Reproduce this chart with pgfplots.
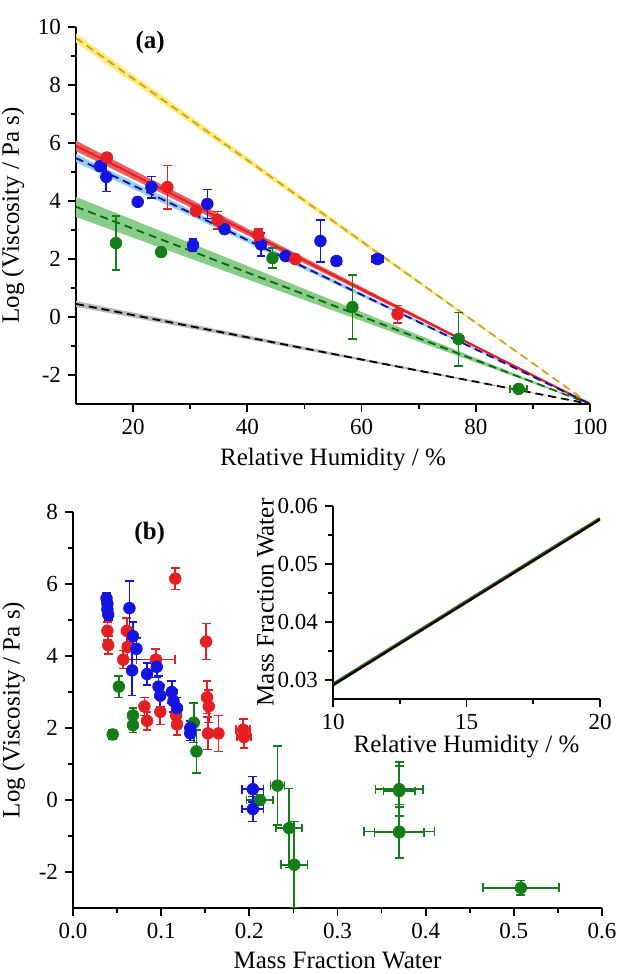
\documentclass[border=0pt]{standalone}
\usepackage{fontspec}
\setmainfont{Liberation Serif}
\usepackage{pgfplots}
\usepackage{pgfplotstable}
\pgfplotsset{compat=1.18}

\definecolor{myred}{RGB}{228,32,36}
\definecolor{myblue}{RGB}{20,20,225}
\definecolor{mygreen}{RGB}{20,125,25}
\definecolor{bandred}{RGB}{240,95,95}
\definecolor{bandblue}{RGB}{150,205,240}
\definecolor{bandgreen}{RGB}{135,205,135}
\definecolor{bandgray}{RGB}{185,185,185}
\definecolor{bandyellow}{RGB}{255,236,120}
\definecolor{dashyellow}{RGB}{205,160,50}

% panel (a): RH, log viscosity, x error, y error
\pgfplotstableread{
x y ex ey
14.2 5.20 0 0.15
15.3 4.83 0 0.50
20.8 3.97 0 0.10
23.2 4.48 0 0.37
30.5 2.48 0 0.20
33.0 3.90 0 0.50
36.0 3.03 0 0.10
42.4 2.50 0 0.40
46.7 2.10 0 0.10
52.8 2.62 0.3 0.72
55.6 1.93 0.8 0.10
62.8 2.00 1.0 0.15
}\bluea
\pgfplotstableread{
x y ex ey
15.4 5.50 0 0.10
26.0 4.48 0 0.75
31.0 3.66 0 0.10
34.8 3.34 0 0.30
41.9 2.83 0 0.20
48.4 2.00 0 0.10
66.3 0.10 0.5 0.30
}\reda
\pgfplotstableread{
x y ex ey
17.0 2.55 0 0.93
24.9 2.24 0 0.15
44.4 2.03 0 0.35
58.4 0.34 0 1.10
77.0 -0.76 0.8 0.92
87.5 -2.48 1.5 0.10
}\greena

% panel (b): mass fraction water, log viscosity
\pgfplotstableread{
x y ex ey
0.038 5.60 0.003 0.15
0.039 5.45 0.003 0.15
0.039 5.30 0.003 0.15
0.040 5.15 0.003 0.15
0.064 5.33 0 0.75
0.068 4.55 0 0.40
0.072 4.20 0 0.30
0.067 3.60 0 0.70
0.084 3.50 0 0.30
0.095 3.70 0 0.30
0.097 3.15 0 0.30
0.099 2.90 0 0.30
0.112 3.00 0 0.30
0.114 2.75 0 0.30
0.118 2.55 0 0.30
0.133 2.00 0 0.20
0.133 1.85 0 0.20
0.204 0.30 0.012 0.35
0.204 -0.25 0.012 0.35
}\blueb
\pgfplotstableread{
x y ex ey
0.039 4.70 0 0.25
0.040 4.30 0 0.25
0.057 3.90 0 0.25
0.061 4.70 0 0.35
0.062 4.25 0 0.35
0.094 3.90 0.022 0.30
0.116 6.15 0 0.30
0.151 4.40 0 0.50
0.152 2.85 0 0.45
0.154 2.60 0 0.45
0.081 2.60 0 0.25
0.084 2.20 0 0.25
0.099 2.45 0 0.35
0.117 2.35 0 0.30
0.118 2.10 0 0.30
0.153 1.85 0 0.45
0.165 1.85 0 0.50
0.193 1.95 0.008 0.30
0.194 1.75 0.008 0.30
}\redb
\pgfplotstableread{
x y ex ey
0.045 1.82 0 0.12
0.052 3.15 0 0.30
0.068 2.35 0 0.20
0.068 2.08 0 0.20
0.137 2.15 0 0.55
0.140 1.35 0 0.60
0.212 0.00 0.015 0.15
0.232 0.40 0.008 1.10
0.245 -0.78 0.015 1.10
0.251 -1.80 0.015 1.20
0.370 0.30 0.027 0.75
0.370 0.25 0.018 0.70
0.370 -0.88 0.040 0.75
0.370 -0.90 0.028 0.70
0.508 -2.44 0.043 0.20
}\greenb

\pgfplotsset{
  panel/.style={
    scale only axis, anchor=south west,
    axis x line*=bottom, axis y line*=left,
    axis line style={line width=1pt},
    tick style={line width=0.9pt, black},
    tick align=outside,
    major tick length=4pt, minor tick length=2.5pt,
    tick label style={font=\fontsize{11.5}{13}\selectfont},
    label style={font=\fontsize{12.5}{14}\selectfont},
    /pgf/number format/assume math mode=true,
  },
  pts/.style={only marks, mark=*, mark size=2.9pt,
    mark options={draw=#1, fill=#1},
    error bars/.cd, x dir=both, x explicit, y dir=both, y explicit,
    error bar style={line width=0.8pt, #1},
    error mark options={rotate=90, mark size=2.2pt, line width=0.8pt, #1}},
  fitdash/.style={line width=0.9pt, dash pattern=on 4pt off 2.5pt},
}

\begin{document}
\begin{tikzpicture}
\useasboundingbox (0,0) rectangle (310.5pt,487pt);

\begin{axis}[panel, at={(38pt,285pt)}, width=257pt, height=188.5pt,
  xmin=10, xmax=100, ymin=-3, ymax=10,
  xtick={20,40,60,80,100}, minor xtick={30,50,70,90},
  ytick={-2,0,2,4,6,8,10}, minor ytick={-1,1,3,5,7,9},
  xlabel={Relative Humidity / \%}, ylabel={Log (Viscosity / Pa s)}]
  % uncertainty bands
  \addplot[fill=bandyellow, draw=none] coordinates {(10,9.78) (100,-3) (10,9.46)} -- cycle;
  \addplot[fill=bandred, draw=none] coordinates {(10,6.08) (100,-3) (10,5.72)} -- cycle;
  \addplot[fill=bandblue, draw=none] coordinates {(10,5.62) (100,-3) (10,5.34)} -- cycle;
  \addplot[fill=bandgreen, draw=none] coordinates {(10,4.14) (100,-3) (10,3.45)} -- cycle;
  \addplot[fill=bandgray, draw=none] coordinates {(10,0.55) (100,-3) (10,0.35)} -- cycle;
  % fitted lines
  \addplot[dashyellow, fitdash] coordinates {(10,9.62) (100,-3)};
  \addplot[myred, line width=1pt] coordinates {(10,5.90) (100,-3)};
  \addplot[myblue!70!black, fitdash] coordinates {(10,5.48) (100,-3)};
  \addplot[mygreen!80!black, fitdash] coordinates {(10,3.80) (100,-3)};
  \addplot[black, fitdash] coordinates {(10,0.45) (100,-3)};
  % measurements
  \addplot[pts=myblue] table[x=x, y=y, x error=ex, y error=ey] {\bluea};
  \addplot[pts=myred] table[x=x, y=y, x error=ex, y error=ey] {\reda};
  \addplot[pts=mygreen] table[x=x, y=y, x error=ex, y error=ey] {\greena};
  \node[font=\fontsize{12.5}{14}\selectfont\bfseries] at (axis cs:23,9.45) {(a)};
\end{axis}

\begin{axis}[panel, at={(36.5pt,33pt)}, width=264.5pt, height=198pt,
  xmin=0, xmax=0.6, ymin=-3, ymax=8,
  xtick={0,0.1,0.2,0.3,0.4,0.5,0.6}, minor xtick={0.05,0.15,0.25,0.35,0.45,0.55},
  ytick={-2,0,2,4,6,8}, minor ytick={-1,1,3,5,7},
  xticklabel style={/pgf/number format/.cd, fixed, fixed zerofill, precision=1},
  xlabel={Mass Fraction Water}, ylabel={Log (Viscosity / Pa s)}]
  \addplot[pts=myred] table[x=x, y=y, x error=ex, y error=ey] {\redb};
  \addplot[pts=mygreen] table[x=x, y=y, x error=ex, y error=ey] {\greenb};
  \addplot[pts=myblue] table[x=x, y=y, x error=ex, y error=ey] {\blueb};
  \node[font=\fontsize{12.5}{14}\selectfont\bfseries] at (axis cs:0.087,7.4) {(b)};
\end{axis}

\begin{axis}[panel, at={(166.5pt,137.5pt)}, width=133.5pt, height=96.5pt,
  xmin=10, xmax=20, ymin=0.0267, ymax=0.06,
  xtick={10,15,20}, minor xtick={12.5,17.5},
  ytick={0.03,0.04,0.05,0.06}, minor ytick={0.035,0.045,0.055},
  scaled y ticks=false,
  yticklabel style={/pgf/number format/.cd, fixed, fixed zerofill, precision=2},
  xlabel={Relative Humidity / \%}, ylabel={Mass Fraction Water},
  xlabel style={yshift=4pt}, ylabel style={yshift=-5pt}]
  \addplot[mygreen, line width=1.8pt] coordinates {(10,0.0292) (20,0.0578)};
  \addplot[myred!60!black, line width=1.2pt] coordinates {(10,0.0291) (20,0.0577)};
  \addplot[black, line width=0.8pt] coordinates {(10,0.0291) (20,0.0577)};
\end{axis}
\end{tikzpicture}
\end{document}
